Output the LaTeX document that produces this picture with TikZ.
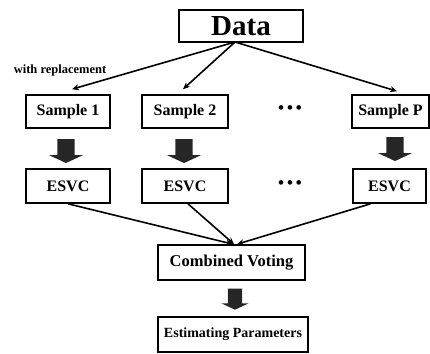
\documentclass[tikz,border=0pt]{standalone}
\usepackage{fontspec}
\setmainfont{Liberation Serif}
\usepackage{tikz}
\usetikzlibrary{positioning,shapes.arrows,arrows.meta}

\begin{document}
\begin{tikzpicture}[
  x=1pt, y=-1pt,
  every node/.style={font=\bfseries},
  box/.style={rectangle, draw, line width=1.6pt, inner sep=0pt, minimum height=33pt},
  link/.style={line width=1.6pt, -{Stealth[length=7pt,width=6pt]}},
  fat/.style={single arrow, fill=black!85, draw=none, inner sep=0pt, rotate=-90,
    minimum height=24pt, single arrow head extend=8pt,
    single arrow head indent=0pt, single arrow tip angle=130}
  ]
\useasboundingbox (0,0) rectangle (430,353);

\node[box, minimum width=124pt, minimum height=32pt, font=\bfseries\fontsize{29}{30}\selectfont] (data) at (241,26) {Data};
\node[font=\bfseries\fontsize{12.5}{13}\selectfont] (repl) at (60,70) {with replacement};

\node[box, minimum width=84pt, font=\bfseries\fontsize{16}{17}\selectfont] (s1) at (68,111.5) {Sample 1};
\node[box, minimum width=86pt, font=\bfseries\fontsize{16}{17}\selectfont] (s2) at (185,111.5) {Sample 2};
\node[font=\bfseries\fontsize{17}{17}\selectfont] (dots1) at (290,110) {\textbullet\,\textbullet\,\textbullet};
\node[box, minimum width=77pt, font=\bfseries\fontsize{16}{17}\selectfont] (sp) at (390.5,111.5) {Sample P};

\node[fat] (b1) at (66,149) {\rule{0pt}{17pt}};
\node[fat] (b2) at (184,149) {\rule{0pt}{17pt}};
\node[fat] (bp) at (395,147) {\rule{0pt}{17pt}};

\node[box, minimum width=84pt, minimum height=34pt, font=\bfseries\fontsize{16}{17}\selectfont] (e1) at (68,186) {ESVC};
\node[box, minimum width=86pt, minimum height=34pt, font=\bfseries\fontsize{16}{17}\selectfont] (e2) at (185,186) {ESVC};
\node[font=\bfseries\fontsize{17}{17}\selectfont] (dots2) at (290,185) {\textbullet\,\textbullet\,\textbullet};
\node[box, minimum width=73pt, minimum height=34pt, font=\bfseries\fontsize{16}{17}\selectfont] (ep) at (389.5,186) {ESVC};

\node[box, minimum width=147pt, minimum height=35pt, font=\bfseries\fontsize{16.5}{17}\selectfont] (comb) at (231.5,262.5) {Combined Voting};
\node[fat, minimum height=21pt, single arrow head extend=6.5pt] (b4) at (235,297.5) {\rule{0pt}{14pt}};
\node[box, minimum width=150pt, minimum height=35pt, font=\bfseries\fontsize{14}{15}\selectfont] (est) at (233,334.5) {Estimating Parameters};

% sampling
\coordinate (fork) at (235,42);
\draw[link] (fork) -- ([xshift=4pt,yshift=5pt]s1.north);
\draw[link] (fork) -- ([xshift=-2pt,yshift=5pt]s2.north);
\draw[link] (fork) -- ([xshift=6.5pt,yshift=3pt]sp.north);

% voting
\draw[link] (e1.south) -- ([xshift=1.5pt]comb.north);
\draw[link] ([xshift=3pt]e2.south) -- ([xshift=2.5pt]comb.north);
\draw[link] ([xshift=-19pt]ep.south) -- ([xshift=5.5pt]comb.north);

\end{tikzpicture}
\end{document}
